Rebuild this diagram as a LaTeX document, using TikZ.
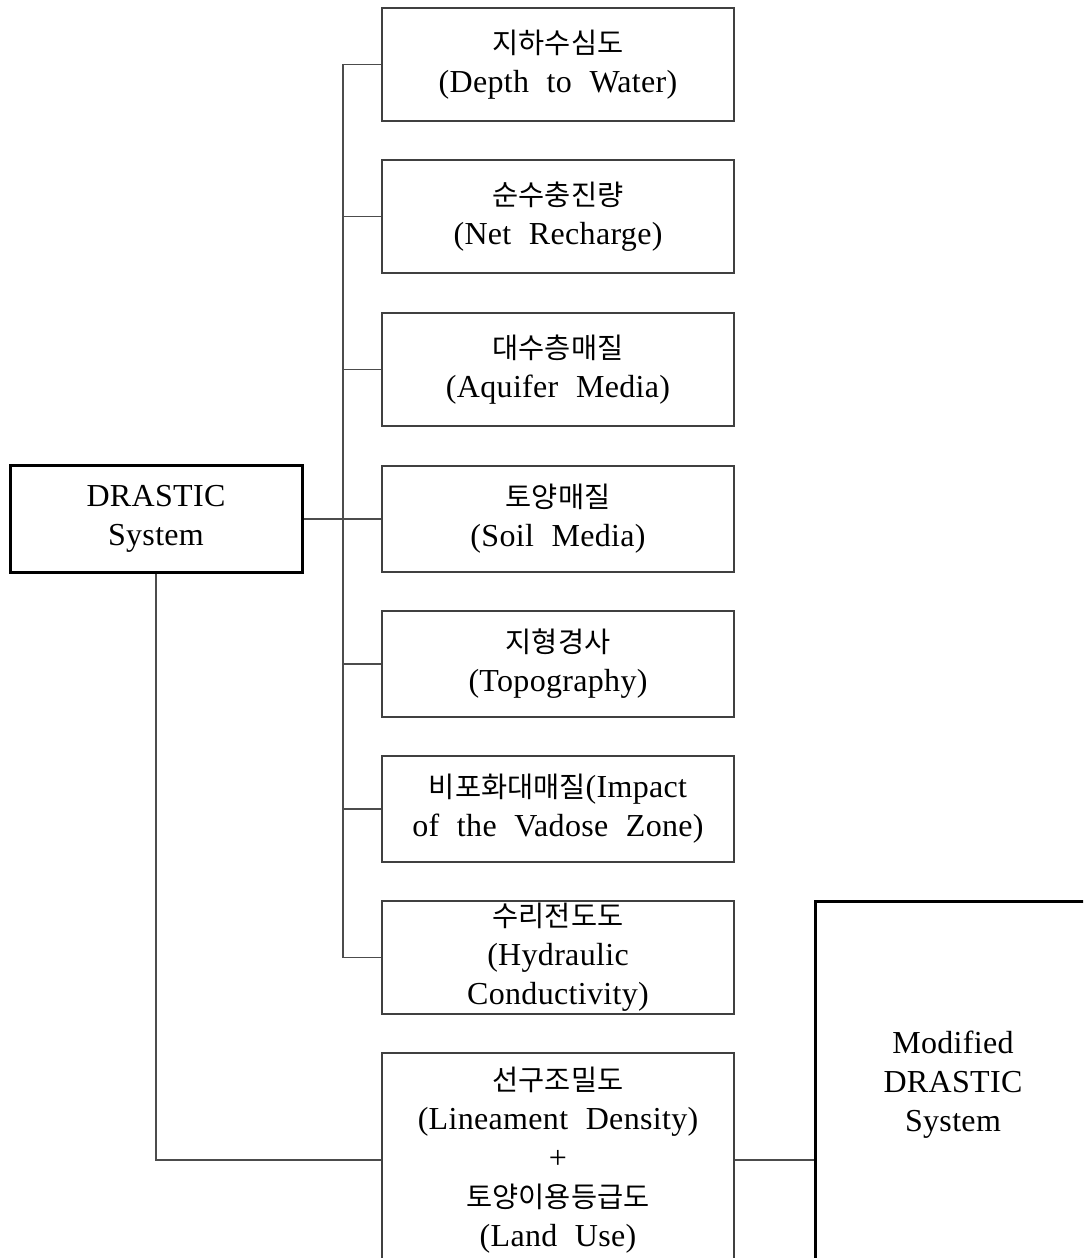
\documentclass[tikz,border=0pt]{standalone}
\usepackage{fontspec}
\setmainfont{Liberation Serif}[LetterSpace=1]
\newfontfamily\krfont{Noto Sans CJK KR}
\newcommand\kor[1]{{\krfont\fontsize{14.2}{19.5}\selectfont #1}}
\newcommand\boxfont{\fontsize{16}{19.5}\selectfont\spaceskip=0.55em plus 0.1em\relax}
\begin{document}
\begin{tikzpicture}[x=0.5pt,y=-0.5pt,
  basebox/.style={inner sep=0pt, align=center, font=\boxfont, text=black},
  tbox/.style={basebox, draw=black!75, line width=0.6pt, minimum width=176pt},
  kbox/.style={basebox, draw=black, line width=1.5pt},
  conn/.style={draw=black!70, line width=0.6pt}]
\useasboundingbox (0,0) rectangle (1083,1258);
\clip (0,0) rectangle (1083,1258);
\fill[white] (0,0) rectangle (1083,1258);

\node[kbox, minimum width=146pt, minimum height=53.5pt] (drastic) at (156,519) {DRASTIC\\System};

\node[tbox, minimum height=56.5pt] (b1) at (558,64.5) {\kor{지하수심도}\\(Depth to Water)};
\node[tbox, minimum height=56.5pt] (b2) at (558,216.5) {\kor{순수충진량}\\(Net Recharge)};
\node[tbox, minimum height=56.5pt] (b3) at (558,369.5) {\kor{대수층매질}\\(Aquifer Media)};
\node[tbox, minimum height=53pt] (b4) at (558,519) {\kor{토양매질}\\(Soil Media)};
\node[tbox, minimum height=53pt] (b5) at (558,664) {\kor{지형경사}\\(Topography)};
\node[tbox, minimum height=53pt] (b6) at (558,809) {\kor{비포화대매질}(Impact\\of the Vadose Zone)};
\node[tbox, minimum height=56.5pt] (b7) at (558,957.5) {\kor{수리전도도}\\(Hydraulic\\Conductivity)};
\node[tbox, minimum height=107pt] (b8) at (558,1160) {\kor{선구조밀도}\\(Lineament Density)\\+\\\kor{토양이용등급도}\\(Land Use)};

\node[kbox, minimum width=138pt, minimum height=184pt] (mod) at (953,1085) {Modified\\DRASTIC\\System};

\coordinate (tr) at (343,0);
\draw[conn] (b1.west) -- (b1.west -| tr) -- (b7.west -| tr) -- (b7.west);
\foreach \b in {b2,b3,b5,b6} \draw[conn] (\b.west) -- (\b.west -| tr);
\draw[conn] (drastic.east) -- (b4.west);
\draw[conn] (drastic.south) |- (b8.west);
\draw[conn] (b8.east) -- (b8.east -| mod.west);
\end{tikzpicture}
\end{document}
